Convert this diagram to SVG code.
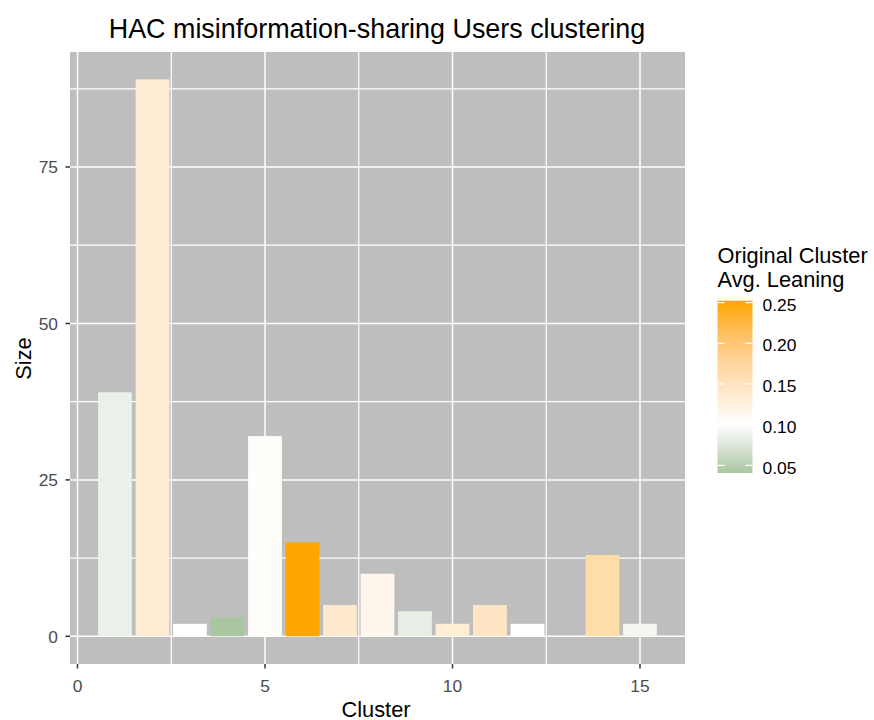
<svg xmlns="http://www.w3.org/2000/svg" width="874" height="720" viewBox="0 0 874 720">
<style>
text{font-family:"Liberation Sans",Arial,sans-serif}
.tick{font-size:17.4px;fill:#4D4D4D}
.ttl{font-size:21.8px;fill:#000}
.gmaj{stroke:#fff;stroke-width:1.5}
.gmin{stroke:#fff;stroke-width:1.2}
.tk{stroke:#333;stroke-width:1.5}
.lt{stroke:#fff;stroke-width:1.2}
</style>
<defs>
<linearGradient id="lean" x1="0" y1="0" x2="0" y2="1">
<stop offset="0" stop-color="#FFA500"/>
<stop offset="0.18" stop-color="#FFBE5C"/>
<stop offset="0.366" stop-color="#FFD59E"/>
<stop offset="0.55" stop-color="#FFEBD2"/>
<stop offset="0.716" stop-color="#FFFFFF"/>
<stop offset="0.86" stop-color="#D6E2D1"/>
<stop offset="1" stop-color="#A9C69F"/>
</linearGradient>
</defs>
<rect width="874" height="720" fill="#fff"/>
<g id="panel">
<rect x="70" y="52" width="615" height="612" fill="#BEBEBE"/>
<g id="grid">
<line class="gmin" x1="70" x2="685" y1="558.1" y2="558.1"/>
<line class="gmin" x1="70" x2="685" y1="401.7" y2="401.7"/>
<line class="gmin" x1="70" x2="685" y1="245.2" y2="245.2"/>
<line class="gmin" x1="70" x2="685" y1="88.8" y2="88.8"/>
<line class="gmin" y1="52" y2="664" x1="171.25" x2="171.25"/>
<line class="gmin" y1="52" y2="664" x1="358.75" x2="358.75"/>
<line class="gmin" y1="52" y2="664" x1="546.25" x2="546.25"/>
<line class="gmaj" x1="70" x2="685" y1="636.3" y2="636.3"/>
<line class="gmaj" x1="70" x2="685" y1="479.9" y2="479.9"/>
<line class="gmaj" x1="70" x2="685" y1="323.5" y2="323.5"/>
<line class="gmaj" x1="70" x2="685" y1="167" y2="167"/>
<line class="gmaj" y1="52" y2="664" x1="77.5" x2="77.5"/>
<line class="gmaj" y1="52" y2="664" x1="265" x2="265"/>
<line class="gmaj" y1="52" y2="664" x1="452.5" x2="452.5"/>
<line class="gmaj" y1="52" y2="664" x1="640" x2="640"/>
</g>
<g id="bars">
<rect id="bar1" x="98.1" y="392.3" width="33.75" height="244" fill="#ECF0EA"/>
<rect id="bar2" x="135.6" y="79.4" width="33.75" height="556.9" fill="#FFEBD3"/>
<rect id="bar3" x="173.1" y="623.8" width="33.75" height="12.5" fill="#FFFFFF"/>
<rect id="bar4" x="210.6" y="617.5" width="33.75" height="18.8" fill="#AAC6A0"/>
<rect id="bar5" x="248.1" y="436.1" width="33.75" height="200.2" fill="#FFFDFA"/>
<rect id="bar6" x="285.6" y="542.4" width="33.75" height="93.9" fill="#FFA500"/>
<rect id="bar7" x="323.1" y="605" width="33.75" height="31.3" fill="#FFE9CE"/>
<rect id="bar8" x="360.6" y="573.7" width="33.75" height="62.6" fill="#FFF6EC"/>
<rect id="bar9" x="398.1" y="611.3" width="33.75" height="25" fill="#E9EEE6"/>
<rect id="bar10" x="435.6" y="623.8" width="33.75" height="12.5" fill="#FFEED4"/>
<rect id="bar11" x="473.1" y="605" width="33.75" height="31.3" fill="#FFE5C4"/>
<rect id="bar12" x="510.6" y="623.8" width="33.75" height="12.5" fill="#FFFFFF"/>
<rect id="bar14" x="585.6" y="555" width="33.75" height="81.3" fill="#FFDDA8"/>
<rect id="bar15" x="623.1" y="623.8" width="33.75" height="12.5" fill="#F3F6F1"/>
</g>
</g>
<g id="axes">
<line class="tk" x1="65.5" x2="70" y1="636.3" y2="636.3"/>
<line class="tk" x1="65.5" x2="70" y1="479.9" y2="479.9"/>
<line class="tk" x1="65.5" x2="70" y1="323.5" y2="323.5"/>
<line class="tk" x1="65.5" x2="70" y1="167" y2="167"/>
<line class="tk" y1="664" y2="668.5" x1="77.5" x2="77.5"/>
<line class="tk" y1="664" y2="668.5" x1="265" x2="265"/>
<line class="tk" y1="664" y2="668.5" x1="452.5" x2="452.5"/>
<line class="tk" y1="664" y2="668.5" x1="640" x2="640"/>
<g class="tick" text-anchor="end">
<text x="58" y="642.5">0</text>
<text x="58" y="486.1">25</text>
<text x="58" y="329.7">50</text>
<text x="58" y="173.2">75</text>
</g>
<g class="tick" text-anchor="middle">
<text x="77.5" y="691.5">0</text>
<text x="265" y="691.5">5</text>
<text x="452.5" y="691.5">10</text>
<text x="640" y="691.5">15</text>
</g>
<text class="ttl" x="376" y="716.5" text-anchor="middle">Cluster</text>
<text class="ttl" transform="translate(30.5,358.5) rotate(-90)" text-anchor="middle">Size</text>
</g>
<text id="title" x="377" y="37.5" text-anchor="middle" style="font-size:26.9px;fill:#000">HAC misinformation-sharing Users clustering</text>
<g id="legend">
<text class="ttl" x="717.5" y="263.3">Original Cluster</text>
<text class="ttl" x="717.5" y="287.3">Avg. Leaning</text>
<rect x="717.5" y="300.7" width="35" height="172.3" fill="url(#lean)"/>
<g>
<line class="lt" x1="717.5" x2="724.5" y1="302.6" y2="302.6"/><line class="lt" x1="745.5" x2="752.5" y1="302.6" y2="302.6"/>
<line class="lt" x1="717.5" x2="724.5" y1="343.3" y2="343.3"/><line class="lt" x1="745.5" x2="752.5" y1="343.3" y2="343.3"/>
<line class="lt" x1="717.5" x2="724.5" y1="384" y2="384"/><line class="lt" x1="745.5" x2="752.5" y1="384" y2="384"/>
<line class="lt" x1="717.5" x2="724.5" y1="424.7" y2="424.7"/><line class="lt" x1="745.5" x2="752.5" y1="424.7" y2="424.7"/>
<line class="lt" x1="717.5" x2="724.5" y1="465.4" y2="465.4"/><line class="lt" x1="745.5" x2="752.5" y1="465.4" y2="465.4"/>
</g>
<g class="tick" style="fill:#000">
<text x="762.5" y="310.7">0.25</text>
<text x="762.5" y="351.4">0.20</text>
<text x="762.5" y="392.1">0.15</text>
<text x="762.5" y="432.8">0.10</text>
<text x="762.5" y="473.5">0.05</text>
</g>
</g>
</svg>
